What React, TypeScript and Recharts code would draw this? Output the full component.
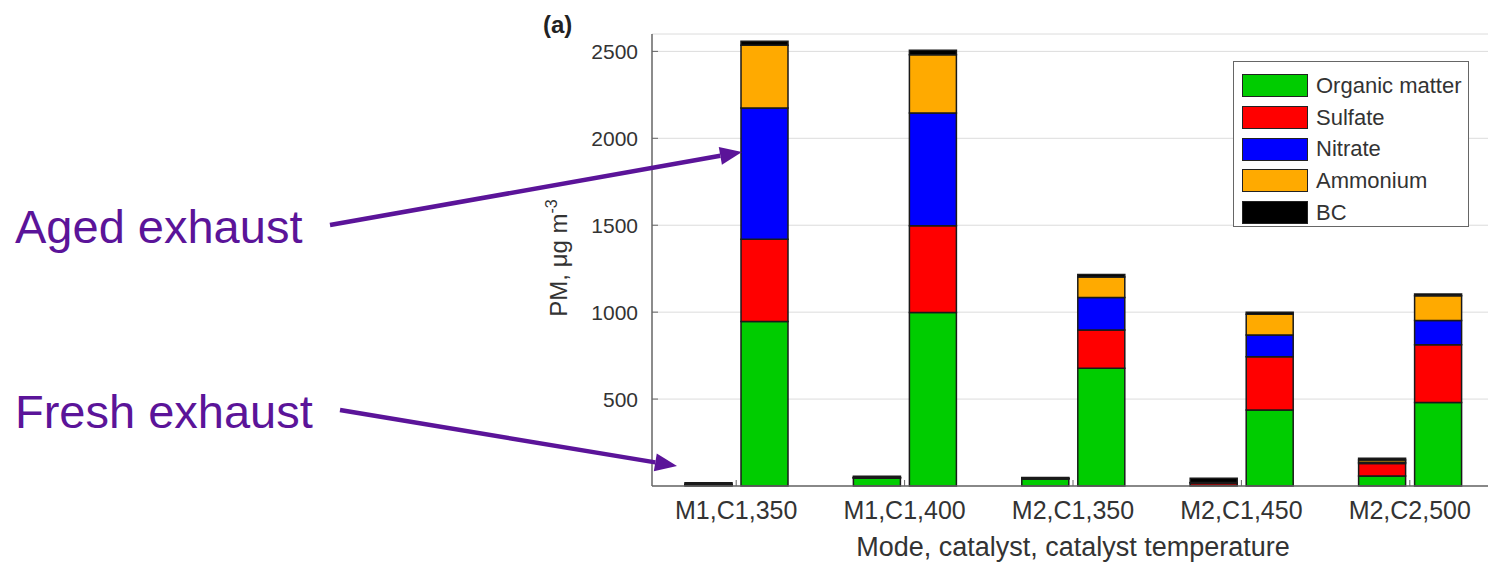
import { BarChart, Bar, XAxis, YAxis, CartesianGrid, Legend } from 'recharts';

const categories = ['M1,C1,350', 'M1,C1,400', 'M2,C1,350', 'M2,C1,450', 'M2,C2,500'];
const species = ['Organic matter', 'Sulfate', 'Nitrate', 'Ammonium', 'BC'];
const speciesColors = ['#00cc00', '#ff0000', '#0000ff', '#ffaa00', '#000000'];

// fresh exhaust (left bar of each group)
const freshOrganic = [5, 45, 40, 5, 58];
const freshSulfate = [2, 2, 2, 12, 72];
const freshNitrate = [1, 1, 1, 1, 6];
const freshAmmonium = [2, 2, 1, 2, 14];
const freshBC = [8, 6, 5, 25, 9];

// aged exhaust (right bar of each group)
const agedOrganic = [946, 998, 678, 437, 480];
const agedSulfate = [474, 499, 220, 307, 332];
const agedNitrate = [754, 649, 186, 125, 140];
const agedAmmonium = [361, 335, 118, 119, 142];
const agedBC = [23, 25, 15, 12, 11];

const yTicks = [500, 1000, 1500, 2000, 2500];

const FONT = '"Liberation Sans", Arial, sans-serif';
const PURPLE = '#5b1499';

const fresh = [freshOrganic, freshSulfate, freshNitrate, freshAmmonium, freshBC];
const aged = [agedOrganic, agedSulfate, agedNitrate, agedAmmonium, agedBC];

const data = categories.map((name, i) => {
  const row: Record<string, string | number> = { name };
  species.forEach((_, k) => {
    row[`f${k}`] = fresh[k][i];
    row[`a${k}`] = aged[k][i];
  });
  return row;
});

const YLabel = () => {
  const cx = 567;
  const cy = 258;
  return (
    <text
      x={cx}
      y={cy}
      transform={`rotate(-90 ${cx} ${cy})`}
      textAnchor="middle"
      fontSize={24}
      fontFamily={FONT}
      fill="#333"
    >
      PM, μg m<tspan dy={-10} fontSize={16}>-3</tspan>
    </text>
  );
};

const LegendBox = () => (
  <div
    style={{
      width: 236,
      height: 166,
      border: '1px solid #666',
      background: '#fff',
      boxSizing: 'border-box',
      padding: '8px 0 0 8px',
      fontFamily: FONT,
    }}
  >
    {species.map((s, k) => (
      <div key={s} style={{ display: 'flex', alignItems: 'center', height: 31.7 }}>
        <div
          style={{
            width: 66,
            height: 23,
            background: speciesColors[k],
            border: '1.5px solid #222',
            boxSizing: 'border-box',
          }}
        />
        <span style={{ marginLeft: 8, fontSize: 22, color: '#333' }}>{s}</span>
      </div>
    ))}
  </div>
);

const Arrow = ({ x1, y1, x2, y2 }: { x1: number; y1: number; x2: number; y2: number }) => {
  const ang = Math.atan2(y2 - y1, x2 - x1);
  const len = 22;
  const half = 9;
  const bx = x2 - len * Math.cos(ang);
  const by = y2 - len * Math.sin(ang);
  const px = -Math.sin(ang) * half;
  const py = Math.cos(ang) * half;
  return (
    <g>
      <line x1={x1} y1={y1} x2={bx} y2={by} stroke={PURPLE} strokeWidth={4.5} />
      <polygon points={`${x2},${y2} ${bx + px},${by + py} ${bx - px},${by - py}`} fill={PURPLE} />
    </g>
  );
};

export default function App() {
  return (
    <div
      style={{
        position: 'absolute',
        left: 0,
        top: 0,
        width: 1488,
        height: 564,
        overflow: 'hidden',
        background: '#fff',
        fontFamily: FONT,
      }}
    >
      <BarChart
        width={1500}
        height={564}
        data={data}
        barSize={47}
        barGap={9}
        margin={{ top: 34, right: 6, bottom: 38, left: 572 }}
      >
        <CartesianGrid horizontal vertical={false} stroke="#dcdcdc" />
        <XAxis
          dataKey="name"
          height={40}
          axisLine={{ stroke: '#666', strokeWidth: 1.5 }}
          tickLine={{ stroke: '#666' }}
          tickSize={-6}
          tickMargin={21}
          tick={{ fontSize: 25, fill: '#333', fontFamily: FONT }}
          interval={0}
          label={{
            value: 'Mode, catalyst, catalyst temperature',
            position: 'bottom',
            offset: 11,
            fontSize: 27,
            fill: '#333',
            fontFamily: FONT,
          }}
        />
        <XAxis
          xAxisId="top"
          dataKey="name"
          orientation="top"
          height={0}
          axisLine={{ stroke: '#777', strokeWidth: 1.5 }}
          tickLine={{ stroke: '#777' }}
          tickSize={-6}
          tick={() => <g />}
          interval={0}
        />
        <YAxis
          width={80}
          domain={[0, 2600]}
          ticks={yTicks}
          interval={0}
          axisLine={{ stroke: '#666', strokeWidth: 1.5 }}
          tickLine={{ stroke: '#666' }}
          tickSize={-6}
          tickMargin={20}
          tick={{ fontSize: 21, fill: '#333', fontFamily: FONT }}
          label={<YLabel />}
        />
        <Legend
          layout="horizontal"
          verticalAlign="middle"
          align="center"
          content={<LegendBox />}
          wrapperStyle={{ left: 1233, top: 61, width: 236, height: 166 }}
        />
        {species.map((s, k) => (
          <Bar
            key={`f${k}`}
            dataKey={`f${k}`}
            name={s}
            stackId="fresh"
            fill={speciesColors[k]}
            stroke="#1a1a1a"
            strokeWidth={1.5}
            isAnimationActive={false}
            legendType="none"
          />
        ))}
        {species.map((s, k) => (
          <Bar
            key={`a${k}`}
            dataKey={`a${k}`}
            name={s}
            stackId="aged"
            fill={speciesColors[k]}
            stroke="#1a1a1a"
            strokeWidth={1.5}
            isAnimationActive={false}
          />
        ))}
      </BarChart>

      <svg
        width={1488}
        height={564}
        style={{ position: 'absolute', left: 0, top: 0, pointerEvents: 'none' }}
      >
        <text x={543} y={33} fontSize={24} fontWeight="bold" fontFamily={FONT} fill="#222">
          (a)
        </text>
        <text x={15} y={243} fontSize={47} fontFamily={FONT} fill={PURPLE}>
          Aged exhaust
        </text>
        <text x={15} y={428} fontSize={47} fontFamily={FONT} fill={PURPLE}>
          Fresh exhaust
        </text>
        <Arrow x1={330} y1={225} x2={742} y2={152} />
        <Arrow x1={340} y1={410} x2={677} y2={466} />
      </svg>
    </div>
  );
}
